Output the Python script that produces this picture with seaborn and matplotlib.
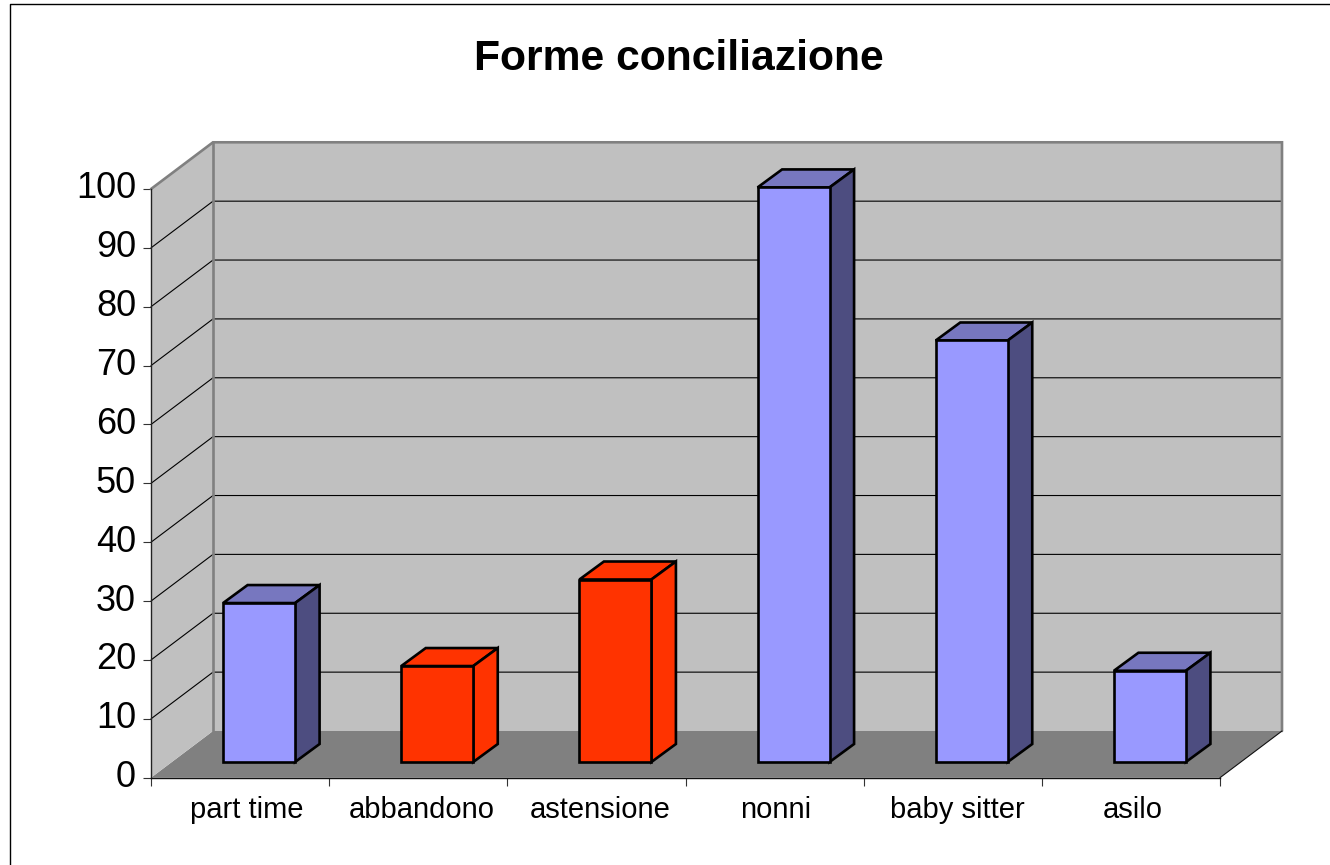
import matplotlib
matplotlib.use("Agg")
import matplotlib.pyplot as plt
from matplotlib.lines import Line2D
from matplotlib.patches import Polygon, Rectangle
from matplotlib.transforms import ScaledTranslation
import seaborn as sns

categories = ["part time", "abbandono", "astensione", "nonni", "baby sitter", "asilo"]
values = [27, 16.3, 31, 97.6, 71.6, 15.5]
bar_colors = ["#9999FF", "#FF3300", "#FF3300", "#9999FF", "#9999FF", "#9999FF"]
top_colors = ["#7777BF", "#FF3300", "#FF3300", "#7777BF", "#7777BF", "#7777BF"]
side_colors = ["#4D4D80", "#FF3300", "#FF3300", "#4D4D80", "#4D4D80", "#4D4D80"]
y_ticks = list(range(0, 101, 10))
title = "Forme conciliazione"

W, H = 1330, 865
sns.set_theme(style="white")
plt.rcParams["font.family"] = ["Liberation Sans", "DejaVu Sans"]

fig = plt.figure(figsize=(W / 100, H / 100), dpi=100, facecolor="white")
L, R, T, B = 151, 1220, 189, 777.7
ax = fig.add_axes([L / W, 1 - B / H, (R - L) / W, (B - T) / H])
ax.set_xlim(-0.5, 5.5)
ax.set_ylim(0, 100)
ax.patch.set_visible(False)

px_x = (R - L) / 6          # pixels per category
px_y = (B - T) / 100        # pixels per value unit
depth_x = 62 / px_x         # wall depth in data units
depth_y = 46.7 / px_y
bar_x = 19 / px_x           # bar offset into the depth
bar_y = 15.7 / px_y
bar_dx = 24.5 / px_x        # bar depth
bar_dy = 18 / px_y
x0, x1 = -0.5, 5.5

WALL, FLOOR, WALL_EDGE = "#C0C0C0", "#808080", "#808080"
EDGE_LW = 1.9


def poly(pts, fc, ec="none", lw=0.0, z=1):
    ax.add_patch(Polygon(pts, closed=True, facecolor=fc, edgecolor=ec, linewidth=lw,
                         zorder=z, clip_on=False, joinstyle="miter"))


# floor, left wall, back wall
poly([(x0, 0), (x1, 0), (x1 + depth_x, depth_y), (x0 + depth_x, depth_y)], FLOOR)
poly([(x0, 0), (x0 + depth_x, depth_y), (x0 + depth_x, 100 + depth_y), (x0, 100)], WALL)
poly([(x0 + depth_x, depth_y), (x1 + depth_x, depth_y),
      (x1 + depth_x, 100 + depth_y), (x0 + depth_x, 100 + depth_y)], WALL)

# gridlines on both walls
for v in y_ticks[1:-1]:
    ax.plot([x0, x0 + depth_x, x1 + depth_x], [v, v + depth_y, v + depth_y],
            color="#000000", lw=0.8, zorder=2, clip_on=False)

# wall outlines
ax.plot([x0, x0 + depth_x, x1 + depth_x, x1 + depth_x],
        [100, 100 + depth_y, 100 + depth_y, depth_y],
        color=WALL_EDGE, lw=1.9, zorder=2.2, clip_on=False, solid_joinstyle="miter")
ax.plot([x0 + depth_x, x0 + depth_x], [depth_y, 100 + depth_y],
        color=WALL_EDGE, lw=1.9, zorder=2.2, clip_on=False)
ax.plot([x1, x1 + depth_x], [0, depth_y], color="#111111", lw=0.8, zorder=2.2, clip_on=False)

# front faces
sns.barplot(x=categories, y=values, hue=categories, palette=bar_colors, order=categories,
            hue_order=categories, dodge=False, width=72 / px_x, saturation=1, legend=False,
            edgecolor="black", linewidth=EDGE_LW, ax=ax, zorder=4)
ax.set_xlim(-0.5, 5.5)
ax.set_ylim(0, 100)

bars = sorted([p for p in ax.patches if isinstance(p, Rectangle) and p.get_height() > 0],
              key=lambda p: p.get_x())
for p, tc, sc in zip(bars, top_colors, side_colors):
    p.set_x(p.get_x() + bar_x)
    p.set_y(bar_y)
    p.set_clip_on(False)
    p.set_joinstyle("miter")
    xa, xb = p.get_x(), p.get_x() + p.get_width()
    ya, yb = bar_y, bar_y + p.get_height()
    poly([(xa, yb), (xb, yb), (xb + bar_dx, yb + bar_dy), (xa + bar_dx, yb + bar_dy)],
         tc, "black", EDGE_LW, 3.5)
    poly([(xb, ya), (xb + bar_dx, ya + bar_dy), (xb + bar_dx, yb + bar_dy), (xb, yb)],
         sc, "black", EDGE_LW, 3.5)

# axes
sns.despine(ax=ax, top=True, right=True)
ax.spines["left"].set_color("#222222")
ax.spines["left"].set_linewidth(1.0)
ax.spines["bottom"].set_color("#111111")
ax.spines["bottom"].set_linewidth(1.0)
ax.spines["left"].set_zorder(3)
ax.spines["bottom"].set_zorder(3)

ax.set_yticks(y_ticks)
ax.set_yticklabels([str(v) for v in y_ticks])
ax.tick_params(axis="y", left=True, length=5.8, width=0.8, color="#333333", pad=5,
               labelsize=26, labelcolor="black")
ax.set_xticks(range(len(categories)))
ax.set_xticklabels(categories)
ax.tick_params(axis="x", which="major", bottom=False, length=0, pad=13.5,
               labelsize=21, labelcolor="black")
ax.set_xticks([x0 + i for i in range(7)], minor=True)
ax.tick_params(axis="x", which="minor", bottom=True, length=6, width=0.8, color="#333333")

label_nudge_px = [6.5, 4, 3.5, 1.5, 4.5, 2]
for lab, nudge in zip(ax.get_xticklabels(), label_nudge_px):
    lab.set_transform(lab.get_transform() + ScaledTranslation(nudge / 100, 0, fig.dpi_scale_trans))
for lab in ax.get_yticklabels():
    lab.set_transform(lab.get_transform() + ScaledTranslation(0, 4 / 100, fig.dpi_scale_trans))

fig.text(679 / W, 1 - 69.5 / H, title, ha="center", va="baseline",
         fontsize=30.7, fontweight="bold", color="black")

# chart-area frame
fig.add_artist(Line2D([9.5 / W, 9.5 / W, 1], [0, 1 - 4.3 / H, 1 - 4.3 / H],
                      color="black", lw=1.0, transform=fig.transFigure))

fig.savefig("out.png", dpi=100)
